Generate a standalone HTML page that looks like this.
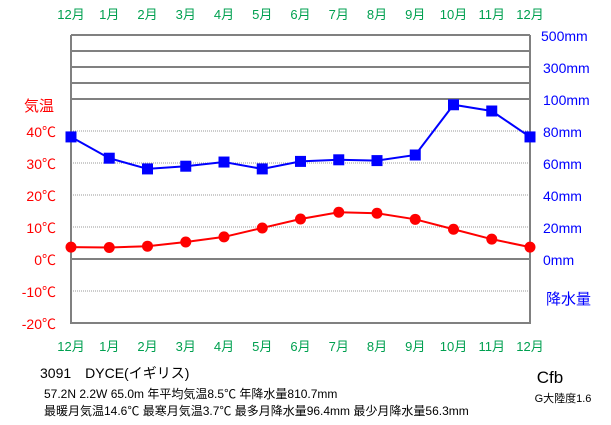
<!DOCTYPE html>
<html><head><meta charset="utf-8"><style>
html,body{margin:0;padding:0;background:#fff}
svg{display:block;font-family:"Liberation Sans","Noto Sans CJK JP",sans-serif}
</style></head><body>
<svg id="chart" width="611" height="425" viewBox="0 0 611 425">
<g id="grid"></g><g id="labels"></g><g id="series"></g>
<g font-size="14" fill="#000">
<text x="40" y="378">3091　DYCE(イギリス)</text>
<text x="44" y="398" font-size="12">57.2N 2.2W 65.0m 年平均気温8.5℃ 年降水量810.7mm</text>
<text x="44" y="415" font-size="12">最暖月気温14.6℃ 最寒月気温3.7℃ 最多月降水量96.4mm 最少月降水量56.3mm</text>
<text x="550" y="383" font-size="17" text-anchor="middle">Cfb</text>
<text x="563" y="402" font-size="11" text-anchor="middle">G大陸度1.6</text>
<text x="24" y="111" font-size="15" fill="#f00">気温</text>
<text x="546" y="304" font-size="15" fill="#00f">降水量</text>
</g>
</svg>
<script>
const months=["12月","1月","2月","3月","4月","5月","6月","7月","8月","9月","10月","11月","12月"];
const temps=[3.7,3.6,4.0,5.3,6.9,9.7,12.5,14.6,14.3,12.4,9.3,6.2,3.7];
const precip=[76.3,63,56.3,58,60.6,56.3,61,62,61.5,65,96.4,92.5,76.3];
const tempTicks=[40,30,20,10,0,-10,-20];
const precipTicks=[80,60,40,20,0];
const upperTicks=["100mm","300mm","500mm"];
const NS="http://www.w3.org/2000/svg";
const L=71,R=530;
const x=i=>L+(R-L)*i/(months.length-1);
const yT=t=>259-t*3.2;
const yP=p=>259-p*1.6;
function mk(tag,attrs,parent,txt){const e=document.createElementNS(NS,tag);for(const k in attrs)e.setAttribute(k,attrs[k]);if(txt!==undefined)e.textContent=txt;document.getElementById(parent).appendChild(e);return e;}
// upper band lines
[35,51,67,83,99].forEach((y,i)=>{const e=mk('line',{x1:L,x2:R,y1:y,y2:y,stroke:'#808080','stroke-width':2},'grid');

});
tempTicks.forEach(t=>{if(t===0||t===-20)return;const e=mk('line',{x1:L,x2:R,y1:yT(t),y2:yT(t),stroke:'#999','stroke-dasharray':'1,1'},'grid');

});
const z=mk('line',{x1:L,x2:R,y1:yT(0),y2:yT(0),stroke:'#808080','stroke-width':2},'grid');


const fr=mk('polyline',{points:`${L},35 ${L},${yT(-20)} ${R},${yT(-20)} ${R},35`,fill:'none',stroke:'#808080','stroke-width':2},'grid');


months.forEach((m,i)=>{[19,351].forEach(y=>{const e=mk('text',{x:x(i),y:y,'text-anchor':'middle','font-size':13,fill:'#00a050'},'labels',m);

});});
tempTicks.forEach(t=>{const e=mk('text',{x:56,y:yT(t)+6,'text-anchor':'end','font-size':14,fill:'#f00'},'labels',t+'℃');

});
precipTicks.forEach(p=>{const e=mk('text',{x:543,y:yP(p)+6,'font-size':14,fill:'#00f'},'labels',p+'mm');

});
upperTicks.forEach((s,i)=>{const e=mk('text',{x:543-(i==2?2:0),y:105-i*32,'font-size':14,fill:'#00f'},'labels',s);

});
const pl=mk('polyline',{points:precip.map((p,i)=>x(i)+','+yP(p)).join(' '),fill:'none',stroke:'#00f','stroke-width':2},'series');


precip.forEach((p,i)=>{const e=mk('rect',{x:x(i)-5.5,y:yP(p)-5.5,width:11,height:11,fill:'#00f'},'series');

});
const tl=mk('polyline',{points:temps.map((t,i)=>x(i)+','+yT(t)).join(' '),fill:'none',stroke:'#f00','stroke-width':2},'series');


temps.forEach((t,i)=>{const e=mk('circle',{cx:x(i),cy:yT(t),r:5.5,fill:'#f00'},'series');

});
</script>
</body></html>
